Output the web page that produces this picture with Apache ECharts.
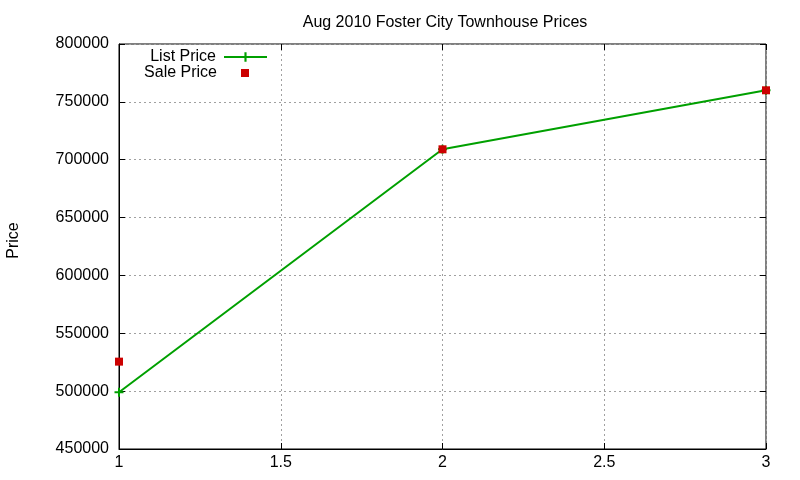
<!DOCTYPE html>
<html>
<head>
<meta charset="UTF-8">
<title>Aug 2010 Foster City Townhouse Prices</title>
<script src="https://cdn.jsdelivr.net/npm/echarts@6/dist/echarts.min.js"></script>
<style>
  html, body { margin: 0; padding: 0; background: #fff; }
  #chart { width: 800px; height: 480px; }
</style>
</head>
<body>
<div id="chart"></div>
<script>
// data
var months = [1, 2, 3];
var listPrice = [499000, 709000, 760000];
var salePrice = [525500, 709000, 760000];
var yTicks = { min: 450000, max: 800000, step: 50000 };

var chart = echarts.init(document.getElementById('chart'));
var font = 'Liberation Sans, Arial, sans-serif';
var plus = 'path://M3.5,0h2v9h-2z M0,3.5h9v2h-9z';

function pairs(xs, ys) {
    return xs.map(function (x, i) { return [x, ys[i]]; });
}

var gridLine = { show: true, lineStyle: { color: '#a0a0a0', type: [2, 3], width: 1 } };
var tick = { inside: true, length: 6, lineStyle: { color: '#000' } };

var option = {
    animation: false,
    backgroundColor: '#fff',
    title: {
        text: 'Aug 2010 Foster City Townhouse Prices',
        left: 440, top: 10, textAlign: 'center',
        textStyle: { fontFamily: font, fontSize: 16, fontWeight: 'normal', color: '#000' }
    },
    legend: [{
        data: ['List Price'],
        right: 532, top: 49, padding: 0,
        align: 'right',
        itemWidth: 43, itemHeight: 12,
        textStyle: { fontFamily: font, fontSize: 16, color: '#000', padding: [0, 3, 0, 0] }
    }, {
        data: ['Sale Price'],
        right: 551, top: 65, padding: 0,
        align: 'right',
        itemWidth: 8, itemHeight: 8,
        textStyle: { fontFamily: font, fontSize: 16, color: '#000', padding: [0, 19, 0, 0] }
    }],
    grid: {
        left: 119, right: 34, top: 44, bottom: 31,
        outerBoundsMode: 'none', containLabel: false,
        show: true, borderColor: '#000', borderWidth: 1
    },
    xAxis: [{
        type: 'value', min: 1, max: 3, interval: 0.5,
        axisLine: { show: true, lineStyle: { color: '#000' } },
        axisTick: tick,
        axisLabel: { fontFamily: font, fontSize: 16, color: '#000', margin: 6 },
        splitLine: gridLine
    }, {
        type: 'value', min: 1, max: 3, interval: 0.5, position: 'top',
        axisLine: { show: false }, axisTick: tick,
        axisLabel: { show: false }, splitLine: { show: false }
    }],
    yAxis: [{
        type: 'value', min: yTicks.min, max: yTicks.max, interval: yTicks.step,
        name: 'Price', nameLocation: 'middle', nameGap: 97,
        nameTextStyle: { fontFamily: font, fontSize: 16, color: '#000', padding: [0, 0, 0, 12] },
        axisLine: { show: true, lineStyle: { color: '#000' } },
        axisTick: tick,
        axisLabel: { fontFamily: font, fontSize: 16, color: '#000', margin: 10,
            formatter: function (v) { return String(v); } },
        splitLine: gridLine
    }, {
        type: 'value', min: yTicks.min, max: yTicks.max, interval: yTicks.step, position: 'right',
        axisLine: { show: false }, axisTick: tick,
        axisLabel: { show: false }, splitLine: { show: false }
    }],
    series: [{
        name: 'List Price',
        type: 'line',
        data: pairs(months, listPrice),
        symbol: plus, symbolSize: 9, showAllSymbol: true,
        color: '#00a000',
        lineStyle: { color: '#00a000', width: 2 },
        itemStyle: { color: '#00a000' }
    }, {
        name: 'Sale Price',
        type: 'scatter',
        data: pairs(months, salePrice),
        symbol: 'rect', symbolSize: 8,
        color: '#cc0000',
        itemStyle: { color: '#cc0000', opacity: 1 },
        z: 3
    }]
};

chart.setOption(option);
</script>
</body>
</html>
